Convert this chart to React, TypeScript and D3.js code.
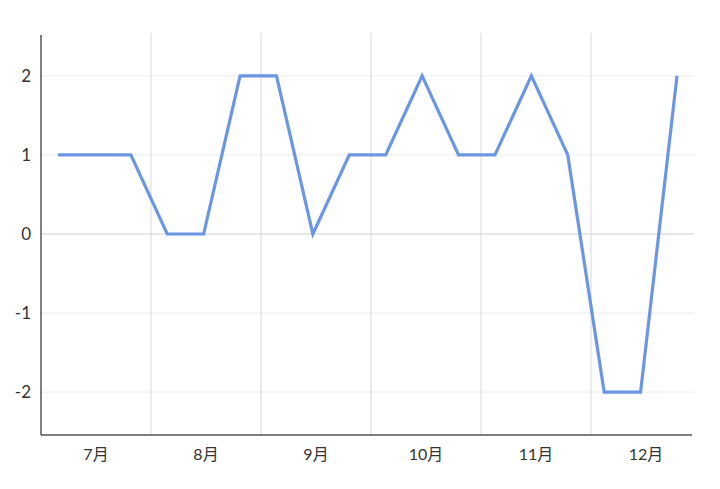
import React from "react";
import * as d3 from "d3";

const months = ["7月", "8月", "9月", "10月", "11月", "12月"];
const values = [1, 1, 1, 0, 0, 2, 2, 0, 1, 1, 2, 1, 1, 2, 1, -2, -2, 2];
const yTicks = [2, 1, 0, -1, -2];

const W = 720;
const H = 489;
const left = 41;
const right = 692;
const top = 35;
const bottom = 435;

export default function App() {
  const xMonth = d3.scaleBand<string>().domain(months).range([left, left + 660]);
  const xPt = d3
    .scalePoint<number>()
    .domain(values.map((_, i) => i))
    .range([58, 677]);
  const y = d3.scaleLinear().domain([-2.53, 2.53]).range([434, 34]);

  const line = d3
    .line<number>()
    .x((_, i) => xPt(i) as number)
    .y((d) => y(d));

  const font = "Lato, 'Noto Sans CJK JP', sans-serif";

  return (
    <svg
      width={W}
      height={H}
      style={{ position: "absolute", left: 0, top: 0, background: "#fff" }}
    >
      {yTicks.map((t) => (
        <line
          key={"h" + t}
          x1={left}
          x2={right + 2}
          y1={y(t)}
          y2={y(t)}
          stroke={t === 0 ? "#d0d0d0" : "#ececec"}
          strokeWidth={1}
        />
      ))}
      {months.slice(1).map((m) => (
        <line
          key={"v" + m}
          x1={xMonth(m) as number}
          x2={xMonth(m) as number}
          y1={top - 2}
          y2={bottom}
          stroke="#d8d8d8"
          strokeWidth={1}
        />
      ))}
      <line x1={left} x2={left} y1={top} y2={bottom} stroke="#555" strokeWidth={1.5} />
      <line x1={left} x2={right} y1={bottom} y2={bottom} stroke="#555" strokeWidth={1.5} />
      {yTicks.map((t) => (
        <text
          key={"yl" + t}
          x={31}
          y={y(t)}
          dy="0.36em"
          textAnchor="end"
          fontFamily={font}
          fontSize={17}
          fill="#333"
        >
          {t}
        </text>
      ))}
      {months.map((m) => (
        <text
          key={"xl" + m}
          x={(xMonth(m) as number) + xMonth.bandwidth() / 2}
          y={454}
          dy="0.36em"
          textAnchor="middle"
          fontFamily={font}
          fontSize={16}
          fill="#333"
        >
          {m}
        </text>
      ))}
      <path
        d={line(values) || ""}
        fill="none"
        stroke="#6a96e3"
        strokeWidth={3.2}
        strokeLinejoin="miter"
      />
    </svg>
  );
}
